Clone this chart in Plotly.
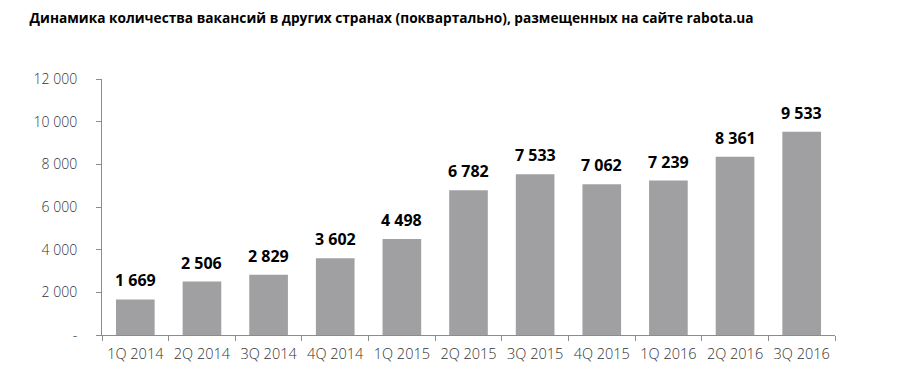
import plotly.graph_objects as go

categories = ["1Q 2014", "2Q 2014", "3Q 2014", "4Q 2014", "1Q 2015", "2Q 2015",
              "3Q 2015", "4Q 2015", "1Q 2016", "2Q 2016", "3Q 2016"]
values = [1669, 2506, 2829, 3602, 4498, 6782, 7533, 7062, 7239, 8361, 9533]
y_ticks = [0, 2000, 4000, 6000, 8000, 10000, 12000]
y_tick_labels = ["-", "2 000", "4 000", "6 000", "8 000", "10 000", "12 000"]
title = "Динамика количества вакансий в других странах (поквартально), размещенных на сайте rabota.ua"

labels = [f"{v:,}".replace(",", " ") for v in values]

fig = go.Figure(go.Bar(
    x=categories, y=values,
    marker=dict(color="#a0a0a3", line=dict(width=0)),
    width=0.58,
    cliponaxis=False,
))

for c, v, t in zip(categories, values, labels):
    fig.add_annotation(x=c, y=v, text=f"<b>{t}</b>", showarrow=False,
                       yanchor="middle", yshift=19,
                       font=dict(family="Open Sans", size=16, color="#000000"))

fig.update_layout(
    width=900, height=381,
    margin=dict(l=94, r=73, t=71, b=54),
    plot_bgcolor="white", paper_bgcolor="white",
    showlegend=False,
    title=dict(text=f"<b>{title}</b>", x=0.024, xanchor="left", y=0.974, yanchor="middle",
               font=dict(family="Open Sans", size=13.7, color="#000000")),
    xaxis=dict(
        showgrid=False, showline=True, linecolor="#8c8c8c", linewidth=1,
        ticks="outside", tickson="boundaries", ticklen=5, tickcolor="#8c8c8c",
        tickfont=dict(family="Open Sans", size=14.5, color="#333333", weight=300),
        ticklabelstandoff=6,
    ),
    yaxis=dict(
        range=[0, 12000], tickvals=y_ticks, ticktext=y_tick_labels,
        showgrid=False, showline=True, linecolor="#8c8c8c", linewidth=1,
        ticks="outside", ticklen=5, tickcolor="#8c8c8c", zeroline=False,
        tickfont=dict(family="Open Sans", size=14, color="#333333", weight=300),
        ticklabelstandoff=16,
    ),
)

fig.write_html("out.html")
